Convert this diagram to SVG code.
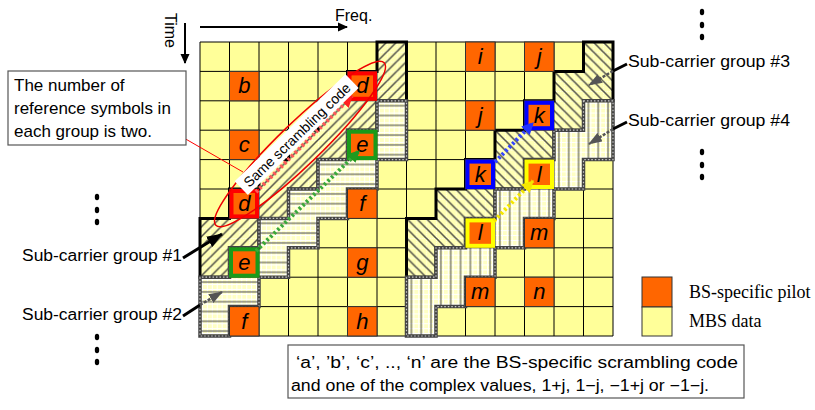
<svg xmlns="http://www.w3.org/2000/svg" width="815" height="410" viewBox="0 0 815 410">
<defs>
<style>
text{font-family:"Liberation Sans",Arial,sans-serif;fill:#000}
.lbl{font-size:16px}
.pl{font-size:22px;font-style:italic;text-anchor:middle}
.cell{fill:#ff6600;stroke:#333;stroke-width:1}
.grid{fill:none;stroke:#000;stroke-width:1}
.solidb{stroke:#000;stroke-width:3;stroke-linejoin:miter}
.chk1{stroke:#444;stroke-width:3.5;stroke-linejoin:miter}
.chk2{fill:none;stroke:#c8c8c8;stroke-width:1.2;stroke-dasharray:1.5 2}
.hl{fill:none;stroke-width:4}
.dot{fill:none;stroke-width:4;stroke-dasharray:2.5 2.5}
.leg{font-family:"Liberation Serif","Times New Roman",serif;font-size:18px}
</style>
<pattern id="hatchR" patternUnits="userSpaceOnUse" x="200" y="42" width="9.8333" height="9.8">
<rect width="9.8333" height="9.8" fill="#ffffb4"/>
<path d="M0,0.4H9.8333M0.4,0V9.8" stroke="#fff" stroke-width="0.8" stroke-dasharray="1 1"/>
<path d="M-2,11.8L11.8,-2M-4.5,4.4L4.4,-4.5M5.4,14.3L14.3,5.4" stroke="#505048" stroke-width="1.5"/>
</pattern>
<pattern id="hatchL" patternUnits="userSpaceOnUse" x="200" y="42" width="9.8333" height="9.8">
<rect width="9.8333" height="9.8" fill="#ffffb4"/>
<path d="M0,0.4H9.8333M0.4,0V9.8" stroke="#fff" stroke-width="0.8" stroke-dasharray="1 1"/>
<path d="M-2,-2L11.8,11.8M5.4,-4.4L14.3,4.5M-4.5,5.4L4.4,14.3" stroke="#505048" stroke-width="1.5"/>
</pattern>
<pattern id="stripeH" patternUnits="userSpaceOnUse" x="200" y="42" width="9.8333" height="9.8">
<rect width="9.8333" height="9.8" fill="#ffffc4"/>
<path d="M0,2.45H9.8333M0,7.35H9.8333M2.46,0V9.8M7.37,0V9.8" stroke="#fff" stroke-width="1"/>
<path d="M0,4.9H9.8333" stroke="#555" stroke-width="1.1"/>
</pattern>
<pattern id="stripeV" patternUnits="userSpaceOnUse" x="200" y="42" width="9.8333" height="9.8">
<rect width="9.8333" height="9.8" fill="#ffffc4"/>
<path d="M0,2.45H9.8333M0,7.35H9.8333M2.46,0V9.8M7.37,0V9.8" stroke="#fff" stroke-width="1"/>
<path d="M4.9,0V9.8" stroke="#555" stroke-width="1.1"/>
</pattern>
<marker id="ahK" markerUnits="userSpaceOnUse" markerWidth="10" markerHeight="10" viewBox="0 0 10 10" refX="9" refY="5" orient="auto"><path d="M0,0.5L10,5L0,9.5z" fill="#000"/></marker>
<marker id="ahBig" markerUnits="userSpaceOnUse" markerWidth="16" markerHeight="12" viewBox="0 0 16 12" refX="15" refY="6" orient="auto"><path d="M0,0L16,6L0,12z" fill="#000"/></marker>
<marker id="ahG" markerUnits="userSpaceOnUse" markerWidth="14" markerHeight="10" viewBox="0 0 14 10" refX="13" refY="5" orient="auto"><path d="M0,0L14,5L0,10z" fill="#555"/></marker>
<marker id="ahR" markerUnits="userSpaceOnUse" markerWidth="12" markerHeight="12" viewBox="0 0 10 10" refX="9" refY="5" orient="auto"><path d="M0,0L10,5L0,10z" fill="#ff2020"/></marker>
<marker id="ahGr" markerUnits="userSpaceOnUse" markerWidth="12" markerHeight="12" viewBox="0 0 10 10" refX="9" refY="5" orient="auto"><path d="M0,0L10,5L0,10z" fill="#1f9a1f"/></marker>
<marker id="ahB" markerUnits="userSpaceOnUse" markerWidth="12" markerHeight="12" viewBox="0 0 10 10" refX="9" refY="5" orient="auto"><path d="M0,0L10,5L0,10z" fill="#2233ff"/></marker>
<marker id="ahY" markerUnits="userSpaceOnUse" markerWidth="12" markerHeight="12" viewBox="0 0 10 10" refX="9" refY="5" orient="auto"><path d="M0,0L10,5L0,10z" fill="#f5e600"/></marker>
</defs>

<g id="grid">
<rect x="200" y="42" width="413" height="294" fill="#ffff99"/>
<path class="grid" d="M200,42V336M229.5,42V336M259,42V336M288.5,42V336M318,42V336M347.5,42V336M377,42V336M406.5,42V336M436,42V336M465.5,42V336M495,42V336M524.5,42V336M554,42V336M583.5,42V336M613,42V336M200,42H613M200,71.4H613M200,100.8H613M200,130.2H613M200,159.6H613M200,189H613M200,218.4H613M200,247.8H613M200,277.2H613M200,306.6H613M200,336H613"/>
</g>

<g id="group1">
<path d="M377,42H406.5V100.8H377V130.2H347.5V159.6H318V189H288.5V218.4H259V247.8H229.5V277.2H200V218.4H229.5V189H259V159.6H288.5V130.2H318V100.8H347.5V71.4H377Z" fill="url(#hatchR)" class="solidb"/>
</g>
<g id="group2">
<path d="M377,100.8H406.5V159.6H377V189H347.5V218.4H318V247.8H288.5V277.2H259V306.6H229.5V336H200V277.2H229.5V247.8H259V218.4H288.5V189H318V159.6H347.5V130.2H377Z" fill="url(#stripeH)" class="chk1"/>
<path d="M377,100.8H406.5V159.6H377V189H347.5V218.4H318V247.8H288.5V277.2H259V306.6H229.5V336H200V277.2H229.5V247.8H259V218.4H288.5V189H318V159.6H347.5V130.2H377Z" class="chk2"/>
</g>
<g id="group3">
<path d="M583.5,42H613V100.8H583.5V130.2H554V159.6H524.5V189H495V218.4H465.5V247.8H436V277.2H406.5V218.4H436V189H465.5V159.6H495V130.2H524.5V100.8H554V71.4H583.5Z" fill="url(#hatchL)" class="solidb"/>
</g>
<g id="group4">
<path d="M583.5,100.8H613V159.6H583.5V189H554V218.4H524.5V247.8H495V277.2H465.5V306.6H436V336H406.5V277.2H436V247.8H465.5V218.4H495V189H524.5V159.6H554V130.2H583.5Z" fill="url(#stripeV)" class="chk1"/>
<path d="M583.5,100.8H613V159.6H583.5V189H554V218.4H524.5V247.8H495V277.2H465.5V306.6H436V336H406.5V277.2H436V247.8H465.5V218.4H495V189H524.5V159.6H554V130.2H583.5Z" class="chk2"/>
</g>

<g id="pilots">
<g id="p-b"><rect class="cell" x="229.5" y="71.4" width="29.5" height="29.4"/><text class="pl" x="244.25" y="93.4">b</text></g>
<g id="p-c"><rect class="cell" x="229.5" y="130.2" width="29.5" height="29.4"/><text class="pl" x="244.25" y="152.2">c</text></g>
<g id="p-d1"><rect class="cell" x="229.5" y="189" width="29.5" height="29.4"/><rect class="hl" stroke="#ff0000" x="231.5" y="191" width="25.5" height="25.4"/><text class="pl" x="244.25" y="211">d</text></g>
<g id="p-e1"><rect class="cell" x="229.5" y="247.8" width="29.5" height="29.4"/><rect class="hl" stroke="#1a9a1a" stroke-width="2.5" x="231" y="249.3" width="26.5" height="26.4"/><text class="pl" x="244.25" y="269.8">e</text></g>
<g id="p-f1"><rect class="cell" x="229.5" y="306.6" width="29.5" height="29.4"/><text class="pl" x="244.25" y="328.6">f</text></g>
<g id="p-d2"><rect class="cell" x="347.5" y="71.4" width="29.5" height="29.4"/><rect class="hl" stroke="#ff0000" x="349.5" y="73.4" width="25.5" height="25.4"/><text class="pl" x="362.25" y="93.4">d</text></g>
<g id="p-e2"><rect class="cell" x="347.5" y="130.2" width="29.5" height="29.4"/><rect class="hl" stroke="#1a9a1a" stroke-width="2.5" x="349" y="131.7" width="26.5" height="26.4"/><text class="pl" x="362.25" y="152.2">e</text></g>
<g id="p-f2"><rect class="cell" x="347.5" y="189" width="29.5" height="29.4"/><text class="pl" x="362.25" y="211">f</text></g>
<g id="p-g"><rect class="cell" x="347.5" y="247.8" width="29.5" height="29.4"/><text class="pl" x="362.25" y="269.8">g</text></g>
<g id="p-h"><rect class="cell" x="347.5" y="306.6" width="29.5" height="29.4"/><text class="pl" x="362.25" y="328.6">h</text></g>
<g id="p-i"><rect class="cell" x="465.5" y="42" width="29.5" height="29.4"/><text class="pl" x="480.25" y="64">i</text></g>
<g id="p-j1"><rect class="cell" x="465.5" y="100.8" width="29.5" height="29.4"/><text class="pl" x="480.25" y="122.8">j</text></g>
<g id="p-k1"><rect class="cell" x="465.5" y="159.6" width="29.5" height="29.4"/><rect class="hl" stroke="#0000ff" x="467.5" y="161.6" width="25.5" height="25.4"/><text class="pl" x="480.25" y="181.6">k</text></g>
<g id="p-l1"><rect class="cell" x="465.5" y="218.4" width="29.5" height="29.4"/><rect class="hl" stroke="#ffff00" x="467.5" y="220.4" width="25.5" height="25.4"/><text class="pl" x="480.25" y="240.4">l</text></g>
<g id="p-m1"><rect class="cell" x="465.5" y="277.2" width="29.5" height="29.4"/><text class="pl" x="480.25" y="299.2">m</text></g>
<g id="p-j2"><rect class="cell" x="524.5" y="42" width="29.5" height="29.4"/><text class="pl" x="539.25" y="64">j</text></g>
<g id="p-k2"><rect class="cell" x="524.5" y="100.8" width="29.5" height="29.4"/><rect class="hl" stroke="#0000ff" x="526.5" y="102.8" width="25.5" height="25.4"/><text class="pl" x="539.25" y="122.8">k</text></g>
<g id="p-l2"><rect class="cell" x="524.5" y="159.6" width="29.5" height="29.4"/><rect class="hl" stroke="#ffff00" x="526.5" y="161.6" width="25.5" height="25.4"/><text class="pl" x="539.25" y="181.6">l</text></g>
<g id="p-m2"><rect class="cell" x="524.5" y="218.4" width="29.5" height="29.4"/><text class="pl" x="539.25" y="240.4">m</text></g>
<g id="p-n"><rect class="cell" x="524.5" y="277.2" width="29.5" height="29.4"/><text class="pl" x="539.25" y="299.2">n</text></g>
</g>

<g id="connectors">
<path class="dot" stroke="#ff5a5a" d="M256,192L352,96" marker-end="url(#ahR)"/>
<path class="dot" stroke="#3aa83a" d="M256,251L359,151" marker-end="url(#ahGr)"/>
<path class="dot" stroke="#3344ff" d="M495,162L533,123" marker-end="url(#ahB)"/>
<path class="dot" stroke="#f5e600" d="M494,221L533,181" marker-end="url(#ahY)"/>
<path d="M185,23V63" stroke="#000" stroke-width="2" marker-end="url(#ahK)"/>
<path d="M200,27H347" stroke="#000" stroke-width="2" marker-end="url(#ahK)"/>
<path d="M183,258L222,234" stroke="#000" stroke-width="3" marker-end="url(#ahBig)"/>
<path d="M183,316L200,305" stroke="#000" stroke-width="3"/>
<path d="M200,305L222,292" stroke="#555" stroke-width="2.5" stroke-dasharray="3 1.5" marker-end="url(#ahG)"/>
<path d="M627,64L613,71" stroke="#000" stroke-width="3"/>
<path d="M613,71L589,85" stroke="#555" stroke-width="2.5" stroke-dasharray="3 1.5" marker-end="url(#ahG)"/>
<path d="M627,122L613,129" stroke="#000" stroke-width="3"/>
<path d="M613,129L589,144" stroke="#555" stroke-width="2.5" stroke-dasharray="3 1.5" marker-end="url(#ahG)"/>
<path d="M170,130L243,172" stroke="#ff0000" stroke-width="1" fill="none"/>
</g>

<g id="same-code">
<ellipse cx="300" cy="144" rx="117" ry="21" transform="rotate(-44 300 144)" fill="none" stroke="#ee0000" stroke-width="1.5"/>
<g transform="translate(297,135) rotate(-44)">
<rect x="-77" y="-10" width="154" height="19" fill="#fff"/>
<text x="0" y="5" text-anchor="middle" font-size="14">Same scrambling code</text>
</g>
</g>

<g id="axes">
<text class="lbl" x="335" y="21">Freq.</text>
<text class="lbl" x="165" y="13" transform="rotate(90 165 13)">Time</text>
</g>

<g id="callout">
<rect x="8" y="71" width="178" height="74" fill="#fff" stroke="#555" stroke-width="1.2"/>
<text x="14" y="91" font-size="17">The number of</text>
<text x="14" y="114" font-size="17">reference symbols in</text>
<text x="14" y="137" font-size="17">each group is two.</text>
</g>

<g id="sc-labels">
<text class="lbl" x="22" y="261" textLength="160" lengthAdjust="spacingAndGlyphs">Sub-carrier group #1</text>
<text class="lbl" x="22" y="320" textLength="160" lengthAdjust="spacingAndGlyphs">Sub-carrier group #2</text>
<text class="lbl" x="628" y="67" textLength="162" lengthAdjust="spacingAndGlyphs">Sub-carrier group #3</text>
<text class="lbl" x="628" y="126" textLength="162" lengthAdjust="spacingAndGlyphs">Sub-carrier group #4</text>
</g>

<g id="ellipsis" fill="#000">
<ellipse cx="97" cy="197" rx="2.2" ry="3.2"/><ellipse cx="97" cy="210" rx="2.2" ry="3.2"/><ellipse cx="97" cy="222" rx="2.2" ry="3.2"/>
<ellipse cx="97" cy="337" rx="2.2" ry="3.2"/><ellipse cx="97" cy="350" rx="2.2" ry="3.2"/><ellipse cx="97" cy="362" rx="2.2" ry="3.2"/>
<ellipse cx="702" cy="12" rx="2.2" ry="3.2"/><ellipse cx="702" cy="25" rx="2.2" ry="3.2"/><ellipse cx="702" cy="37" rx="2.2" ry="3.2"/>
<ellipse cx="702" cy="152" rx="2.2" ry="3.2"/><ellipse cx="702" cy="165" rx="2.2" ry="3.2"/><ellipse cx="702" cy="177" rx="2.2" ry="3.2"/>
</g>

<g id="legend">
<rect x="642" y="277" width="30" height="30" fill="#ff6600" stroke="#333" stroke-width="1"/>
<rect x="642" y="307" width="30" height="29" fill="#ffff99" stroke="#333" stroke-width="1"/>
<text class="leg" x="689" y="298">BS-specific pilot</text>
<text class="leg" x="689" y="327">MBS data</text>
</g>

<g id="note">
<rect x="288" y="345" width="456" height="53" fill="#fff" stroke="#555" stroke-width="1.2"/>
<text class="lbl" x="296" y="368" textLength="442" lengthAdjust="spacingAndGlyphs">‘a’, ’b’, ‘c’, .., ‘n’ are the BS-specific scrambling code</text>
<text class="lbl" x="291" y="391" textLength="418" lengthAdjust="spacingAndGlyphs">and one of the complex values, 1+j, 1−j, −1+j or −1−j.</text>
</g>
</svg>
